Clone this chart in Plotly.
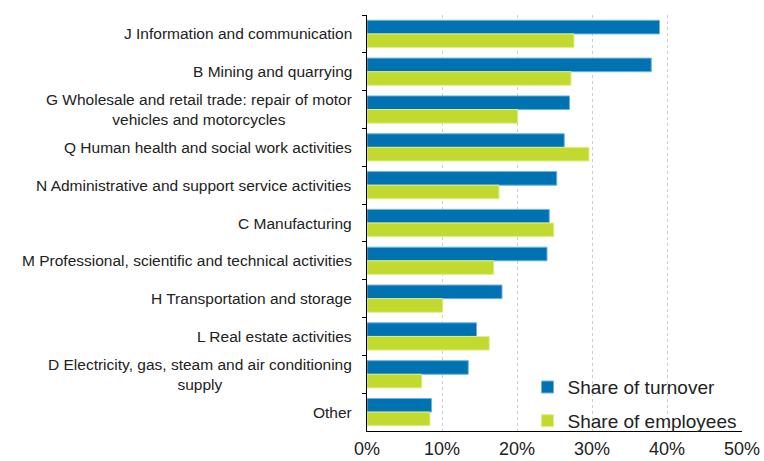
import plotly.graph_objects as go

categories = [
    "J Information and communication",
    "B Mining and quarrying",
    "G Wholesale and retail trade: repair of motor<br>vehicles and motorcycles",
    "Q Human health and social work activities",
    "N Administrative and support service activities",
    "C Manufacturing",
    "M Professional, scientific and technical activities",
    "H Transportation and storage",
    "L Real estate activities",
    "D Electricity, gas, steam and air conditioning<br>supply",
    "Other",
]
share_turnover = [39.0, 37.9, 27.0, 26.3, 25.3, 24.3, 24.0, 18.0, 14.6, 13.5, 8.6]
share_employees = [27.6, 27.2, 20.1, 29.6, 17.6, 24.9, 16.9, 10.1, 16.3, 7.3, 8.4]
x_ticks = [0, 10, 20, 30, 40, 50]

FONT = "Liberation Sans, Arial, sans-serif"

fig = go.Figure()
fig.add_trace(go.Bar(
    y=categories, x=share_turnover, orientation="h", name="Share of turnover",
    marker=dict(color="#0072b1", line=dict(color="#6db4e0", width=1)),
    legendgroup="a",
))
fig.add_trace(go.Bar(
    y=categories, x=share_employees, orientation="h", name="Share of employees",
    marker=dict(color="#c2d92f", line=dict(color="#dfee8a", width=1)),
    legendgroup="b",
))

for c in categories:
    fig.add_annotation(
        x=0, xref="paper", y=c, yref="y", text=c, showarrow=False,
        xanchor="right", xshift=-13, align="center",
        font=dict(family=FONT, size=15.5, color="#222222"),
    )

fig.update_layout(
    width=764, height=461,
    margin=dict(l=367, r=22, t=15, b=30, autoexpand=False),
    paper_bgcolor="white", plot_bgcolor="white",
    barmode="group", bargap=0.28, bargroupgap=0,
    font=dict(family=FONT, color="#222222"),
    showlegend=True,
    legend=dict(
        x=0.428, y=-0.022, xanchor="left", yanchor="bottom",
        font=dict(family=FONT, size=19, color="#222222"),
        traceorder="grouped", tracegroupgap=6,
        bgcolor="rgba(0,0,0,0)", itemwidth=30,
    ),
    xaxis=dict(
        range=[0, 50], tickvals=x_ticks, ticktext=[f"{v}%" for v in x_ticks],
        showgrid=True, gridcolor="#cfcfcf", griddash="dot", gridwidth=1,
        showline=True, linecolor="black", linewidth=1,
        ticks="", zeroline=False, ticklabelstandoff=1, automargin=False,
        tickfont=dict(family=FONT, size=18, color="#222222"),
    ),
    yaxis=dict(
        autorange="reversed", type="category", automargin=False,
        showticklabels=False, showgrid=False,
        showline=True, linecolor="black", linewidth=1,
        ticks="outside", tickson="boundaries", ticklen=4, tickcolor="black",
    ),
)

fig.write_html("out.html")
